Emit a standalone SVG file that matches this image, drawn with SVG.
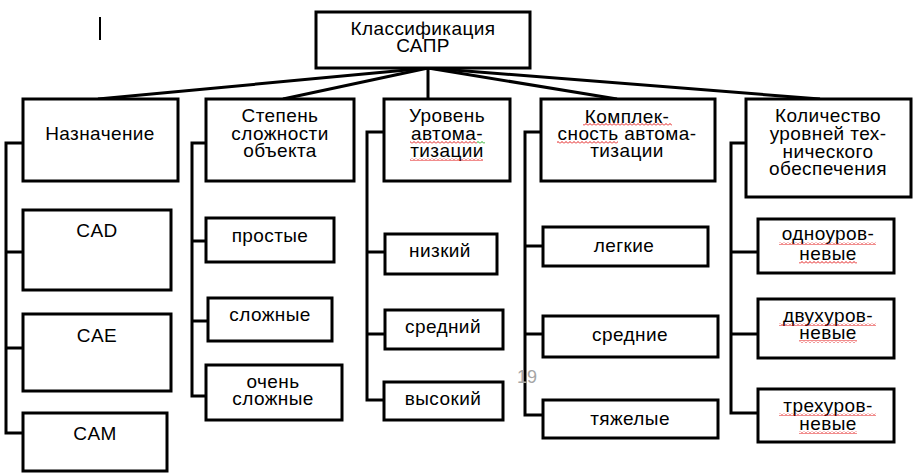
<svg xmlns="http://www.w3.org/2000/svg" width="917" height="473" viewBox="0 0 917 473">
<defs>
<style>
rect.b{fill:#fff;stroke:#000;stroke-width:3}
.c line,.c polyline{stroke:#000;stroke-width:3;fill:none}
text{font-family:"Liberation Sans",Arial,sans-serif;font-size:19px;letter-spacing:0.4px;fill:#000;text-anchor:middle}
text.pg{fill:#a6a6a6;font-size:18px;letter-spacing:0}
rect.sq{fill:url(#sqr)}
rect.sg{fill:url(#sqg)}
</style>
<pattern id="sqr" width="4" height="3" patternUnits="userSpaceOnUse"><path d="M0 2.5L2 0.5L4 2.5" stroke="#e00000" stroke-width="0.9" fill="none"/></pattern>
<pattern id="sqg" width="4" height="3" patternUnits="userSpaceOnUse"><path d="M0 2.5L2 0.5L4 2.5" stroke="#00a000" stroke-width="0.9" fill="none"/></pattern>
</defs>
<rect width="917" height="473" fill="#fff"/>
<line x1="100" y1="17" x2="100" y2="40" stroke="#000" stroke-width="2"/>
<g class="c" id="connectors">
<line x1="428" y1="68" x2="98" y2="99"/>
<line x1="428" y1="68" x2="283" y2="99"/>
<line x1="428" y1="68" x2="428" y2="99"/>
<line x1="428" y1="68" x2="617" y2="99"/>
<line x1="428" y1="68" x2="820" y2="99"/>
<polyline points="23,143 6,143 6,433 23,433"/>
<line x1="6" y1="252" x2="23" y2="252"/>
<line x1="6" y1="348" x2="23" y2="348"/>
<polyline points="206,143 192,143 192,396 206,396"/>
<line x1="192" y1="241" x2="206" y2="241"/>
<line x1="192" y1="321" x2="208" y2="321"/>
<polyline points="384,132 367,132 367,400 384,400"/>
<line x1="367" y1="252" x2="385" y2="252"/>
<line x1="367" y1="334" x2="385" y2="334"/>
<polyline points="541,132 525,132 525,415 543,415"/>
<line x1="525" y1="246" x2="543" y2="246"/>
<line x1="525" y1="334" x2="543" y2="334"/>
<polyline points="746,143 731,143 731,413 758,413"/>
<line x1="731" y1="252" x2="758" y2="252"/>
<line x1="731" y1="334" x2="758" y2="334"/>
</g>
<g id="root"><rect class="b" x="316" y="12" width="214" height="56"/><text x="423" y="35">Классификация<tspan x="423" y="52">САПР</tspan></text></g>
<g id="n1"><rect class="b" x="23" y="99" width="155" height="82"/><text x="100" y="140">Назначение</text></g>
<g id="n1a"><rect class="b" x="23" y="210" width="148" height="80"/><text x="97" y="237">CAD</text></g>
<g id="n1b"><rect class="b" x="23" y="314" width="148" height="77"/><text x="97" y="342">CAE</text></g>
<g id="n1c"><rect class="b" x="23" y="413" width="144" height="58"/><text x="95" y="440">CAM</text></g>
<g id="n2"><rect class="b" x="206" y="99" width="148" height="82"/><text x="280" y="122">Степень<tspan x="280" y="140">сложности</tspan><tspan x="280" y="157">объекта</tspan></text></g>
<g id="n2a"><rect class="b" x="206" y="218" width="128" height="44"/><text x="270" y="242">простые</text></g>
<g id="n2b"><rect class="b" x="208" y="298" width="124" height="43"/><text x="270" y="321">сложные</text></g>
<g id="n2c"><rect class="b" x="206" y="365" width="136" height="55"/><text x="273" y="388">очень<tspan x="273" y="405">сложные</tspan></text></g>
<g id="n3"><rect class="b" x="384" y="99" width="126" height="82"/><text x="447" y="122">Уровень<tspan x="447" y="140">автома-</tspan><tspan x="447" y="157">тизации</tspan></text>
<rect class="sq" x="410" y="141" width="67" height="3"/><rect class="sg" x="477" y="141" width="8" height="3"/><rect class="sq" x="410" y="158" width="73" height="3"/></g>
<g id="n3a"><rect class="b" x="385" y="234" width="112" height="40"/><text x="440" y="257">низкий</text></g>
<g id="n3b"><rect class="b" x="385" y="310" width="118" height="39"/><text x="443" y="333">средний</text></g>
<g id="n3c"><rect class="b" x="384" y="382" width="119" height="38"/><text x="443" y="405">высокий</text></g>
<g id="n4"><rect class="b" x="541" y="99" width="174" height="82"/><text x="627" y="123">Комплек-<tspan x="627" y="140">сность автома-</tspan><tspan x="627" y="157">тизации</tspan></text>
<rect class="sq" x="583" y="123" width="89" height="3"/><rect class="sq" x="557" y="141" width="61" height="3"/></g>
<g id="n4a"><rect class="b" x="543" y="227" width="165" height="39"/><text x="624" y="252">легкие</text></g>
<g id="n4b"><rect class="b" x="543" y="316" width="175" height="41"/><text x="630" y="341">средние</text></g>
<g id="n4c"><rect class="b" x="543" y="400" width="175" height="38"/><text x="630" y="425">тяжелые</text></g>
<g id="n5"><rect class="b" x="746" y="99" width="165" height="98"/><text x="828" y="122">Количество<tspan x="828" y="140">уровней тех-</tspan><tspan x="828" y="158">нического</tspan><tspan x="828" y="175">обеспечения</tspan></text></g>
<g id="n5a"><rect class="b" x="758" y="219" width="136" height="54"/><text x="828" y="240">одноуров-<tspan x="828" y="260">невые</tspan></text>
<rect class="sq" x="779" y="242" width="97" height="3"/><rect class="sq" x="799" y="261" width="58" height="3"/></g>
<g id="n5b"><rect class="b" x="758" y="299" width="136" height="59"/><text x="828" y="322">двухуров-<tspan x="828" y="339">невые</tspan></text>
<rect class="sq" x="779" y="323" width="97" height="3"/><rect class="sq" x="799" y="340" width="58" height="3"/></g>
<g id="n5c"><rect class="b" x="758" y="389" width="136" height="53"/><text x="828" y="412">трехуров-<tspan x="828" y="430">невые</tspan></text>
<rect class="sq" x="779" y="413" width="97" height="3"/><rect class="sq" x="799" y="431" width="58" height="3"/></g>
<text class="pg" x="527" y="383">19</text>
</svg>
